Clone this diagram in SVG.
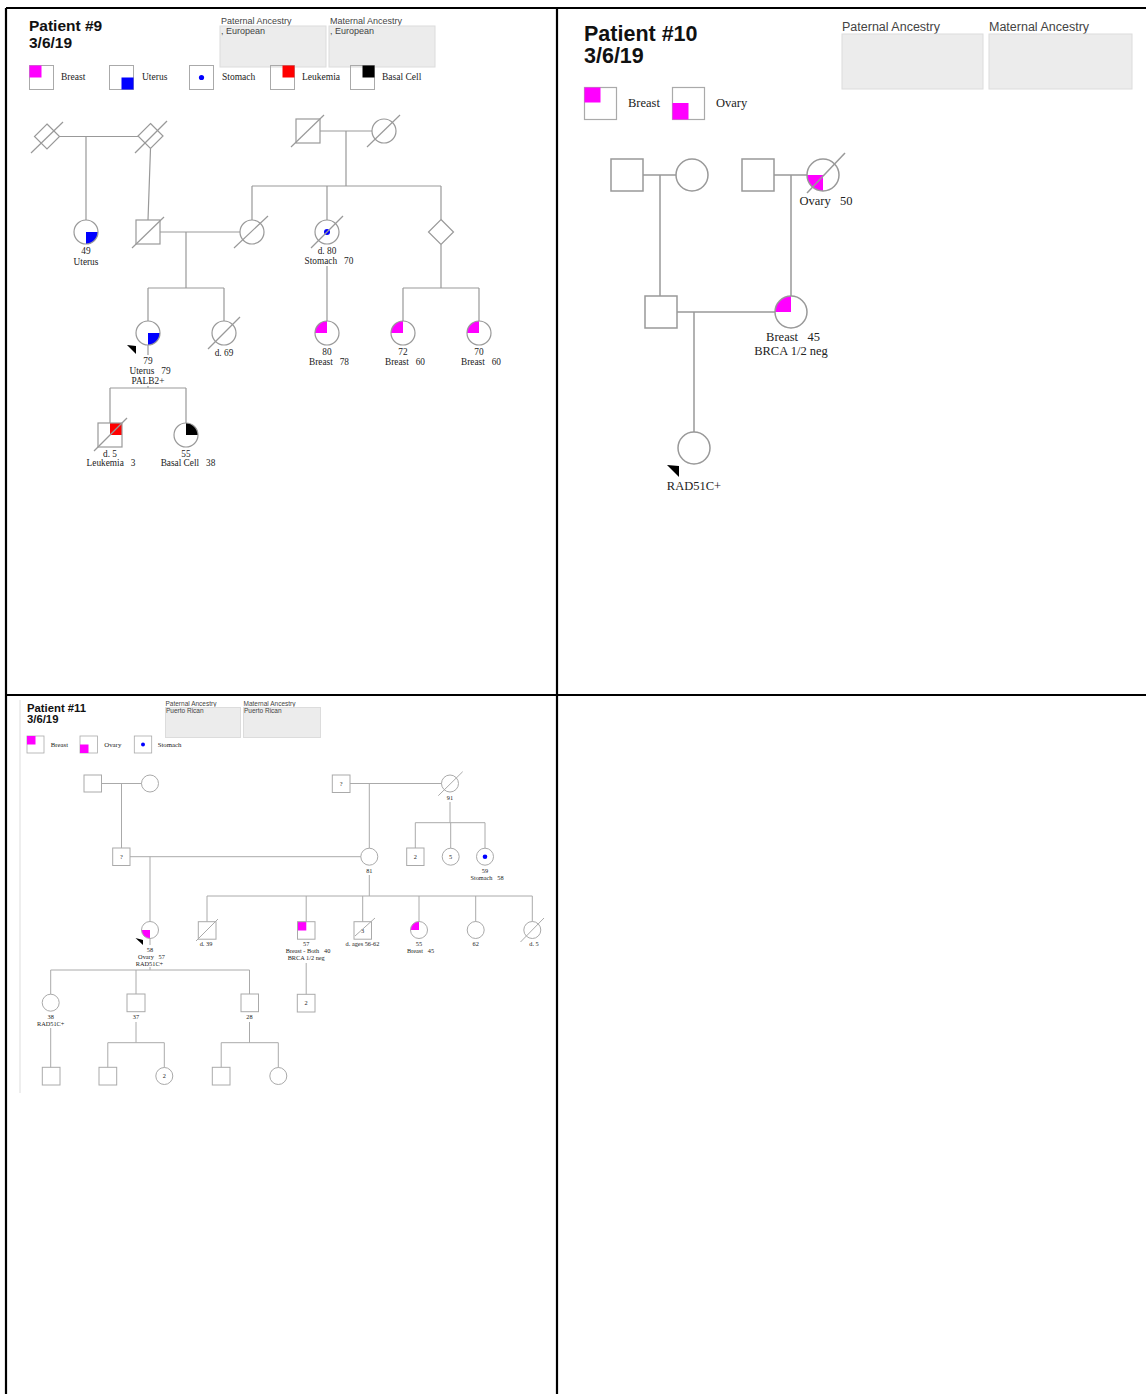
<svg xmlns="http://www.w3.org/2000/svg" width="1146" height="1394" viewBox="0 0 1146 1394">
<style>
.frame{stroke:#000;stroke-width:2.2;fill:none}
.l9{stroke:#999;stroke-width:1.2;fill:none}
.l10{stroke:#999;stroke-width:1.5;fill:none}
.l11{stroke:#aaa;stroke-width:1;fill:none}
.anc{fill:#ececec;stroke:#dcdcdc;stroke-width:1}
.ttl{font-family:"Liberation Sans",Arial,sans-serif;font-weight:bold;fill:#111}
.at{font-family:"Liberation Sans",Arial,sans-serif;fill:#444}
.s9{font-family:"Liberation Serif","Times New Roman",serif;font-size:9.3px;fill:#222;text-anchor:middle}
.g9{font-family:"Liberation Serif","Times New Roman",serif;font-size:9.5px;fill:#222}
.s10{font-family:"Liberation Serif","Times New Roman",serif;font-size:12.5px;fill:#222;text-anchor:middle}
.g10{font-family:"Liberation Serif","Times New Roman",serif;font-size:12.5px;fill:#222}
.s11{font-family:"Liberation Serif","Times New Roman",serif;font-size:6.3px;fill:#222;text-anchor:middle}
.g11{font-family:"Liberation Serif","Times New Roman",serif;font-size:6.8px;fill:#222}
.mg{fill:#ff00ff}.bl{fill:#0000ff}.rd{fill:#ff0000}.bk{fill:#000}
</style>

<g id="frame">
<line class="frame" x1="6" y1="8" x2="1146" y2="8"/>
<line class="frame" x1="6" y1="8" x2="6" y2="1394"/>
<line class="frame" x1="557" y1="8" x2="557" y2="1394"/>
<line class="frame" x1="6" y1="695" x2="1146" y2="695"/>
<line x1="20" y1="700" x2="20" y2="1093" stroke="#ddd" stroke-width="1"/>
</g>

<!-- ================= Patient #9 ================= -->
<g id="p9-header">
<text class="ttl" x="29" y="31" font-size="15.5">Patient #9</text>
<text class="ttl" x="29" y="47.5" font-size="15.5">3/6/19</text>
<text class="at" x="221" y="23.5" font-size="9">Paternal Ancestry</text>
<rect class="anc" x="220" y="26" width="106" height="41"/>
<text class="at" x="221" y="34" font-size="9">, European</text>
<text class="at" x="330" y="23.5" font-size="9">Maternal Ancestry</text>
<rect class="anc" x="329" y="26" width="106" height="41"/>
<text class="at" x="330" y="34" font-size="9">, European</text>
</g>
<g id="p9-legend">
<rect x="29.5" y="65.5" width="24" height="24" fill="none" stroke="#aaa"/>
<rect class="mg" x="29.5" y="65.5" width="12" height="12"/>
<text class="g9" x="61" y="80">Breast</text>
<rect x="109.5" y="65.5" width="24" height="24" fill="none" stroke="#aaa"/>
<rect class="bl" x="121.5" y="77.5" width="12" height="12"/>
<text class="g9" x="142" y="80">Uterus</text>
<rect x="189.5" y="65.5" width="24" height="24" fill="none" stroke="#aaa"/>
<circle class="bl" cx="201.5" cy="77.5" r="2.6"/>
<text class="g9" x="222" y="80">Stomach</text>
<rect x="270.5" y="65.5" width="24" height="24" fill="none" stroke="#aaa"/>
<rect class="rd" x="282.5" y="65.5" width="12" height="12"/>
<text class="g9" x="302" y="80">Leukemia</text>
<rect x="350.5" y="65.5" width="24" height="24" fill="none" stroke="#aaa"/>
<rect class="bk" x="362.5" y="65.5" width="12" height="12"/>
<text class="g9" x="382" y="80">Basal Cell</text>
</g>

<g id="p9-connectors">
<path class="l9" d="M59.5,136.5 H138 M86,136.5 V220 M150.5,148.5 L148,220 M320,131 H372 M346,131 V186 M252,186 H441 M252,186 V220 M327,186 V220 M441,186 V219.5 M160,232 H240 M186,232 V288 M148,288 H224 M148,288 V321 M224,288 V321 M327,266 V321 M441,244.5 V288 M403,288 H479 M403,288 V321 M479,288 V321 M148,345 V355 M148,386 V388 M110,388 H186 M110,388 V423 M186,388 V423"/>
</g>

<g id="p9-pgf">
<polygon class="l9" points="47,124 59.5,136.5 47,149 34.5,136.5"/>
<line class="l9" x1="31" y1="153" x2="63" y2="122"/>
</g>
<g id="p9-pgm">
<polygon class="l9" points="150.5,123.5 163,136 150.5,148.5 138,136"/>
<line class="l9" x1="135" y1="153" x2="167" y2="121"/>
</g>
<g id="p9-aunt">
<path class="bl" d="M86,232 L98,232 A12,12 0 0 1 86,244 Z"/>
<circle class="l9" cx="86" cy="232" r="12"/>
<text class="s9" x="86" y="254">49</text>
<text class="s9" x="86" y="265">Uterus</text>
</g>
<g id="p9-father">
<rect class="l9" x="136" y="220" width="24" height="24"/>
<line class="l9" x1="132" y1="248" x2="164" y2="217"/>
</g>
<g id="p9-mother">
<circle class="l9" cx="252" cy="232" r="12"/>
<line class="l9" x1="234" y1="248" x2="268" y2="216"/>
</g>
<g id="p9-mgf">
<rect class="l9" x="296" y="119" width="24" height="24"/>
<line class="l9" x1="291" y1="147" x2="324" y2="115"/>
</g>
<g id="p9-mgm">
<circle class="l9" cx="384" cy="131" r="12"/>
<line class="l9" x1="367" y1="147" x2="400" y2="115"/>
</g>
<g id="p9-maunt">
<circle class="l9" cx="327" cy="232" r="12"/>
<circle class="bl" cx="327" cy="232" r="3"/>
<line class="l9" x1="311" y1="248" x2="343" y2="216"/>
<text class="s9" x="327" y="254">d. 80</text>
<text class="s9" x="329" y="264">Stomach&#160;&#160;&#160;70</text>
</g>
<g id="p9-muncle">
<polygon class="l9" points="441,219.5 453.5,232 441,244.5 428.5,232"/>
</g>
<g id="p9-proband">
<path class="bl" d="M148,333 L160,333 A12,12 0 0 1 148,345 Z"/>
<circle class="l9" cx="148" cy="333" r="12"/>
<polygon class="bk" points="127,345 136,346 136,354"/>
<text class="s9" x="148" y="363.5">79</text>
<text class="s9" x="150" y="374">Uterus&#160;&#160;&#160;79</text>
<text class="s9" x="148" y="384">PALB2+</text>
</g>
<g id="p9-sister">
<circle class="l9" cx="224" cy="333" r="12"/>
<line class="l9" x1="208" y1="349" x2="240" y2="317"/>
<text class="s9" x="224" y="356">d. 69</text>
</g>
<g id="p9-cousin1">
<path class="mg" d="M327,333 L315,333 A12,12 0 0 1 327,321 Z"/>
<circle class="l9" cx="327" cy="333" r="12"/>
<text class="s9" x="327" y="355">80</text>
<text class="s9" x="329" y="365">Breast&#160;&#160;&#160;78</text>
</g>
<g id="p9-cousin2">
<path class="mg" d="M403,333 L391,333 A12,12 0 0 1 403,321 Z"/>
<circle class="l9" cx="403" cy="333" r="12"/>
<text class="s9" x="403" y="355">72</text>
<text class="s9" x="405" y="365">Breast&#160;&#160;&#160;60</text>
</g>
<g id="p9-cousin3">
<path class="mg" d="M479,333 L467,333 A12,12 0 0 1 479,321 Z"/>
<circle class="l9" cx="479" cy="333" r="12"/>
<text class="s9" x="479" y="355">70</text>
<text class="s9" x="481" y="365">Breast&#160;&#160;&#160;60</text>
</g>
<g id="p9-son">
<rect class="rd" x="110" y="423" width="12" height="12"/>
<rect class="l9" x="98" y="423" width="24" height="24"/>
<line class="l9" x1="94" y1="451" x2="127" y2="418"/>
<text class="s9" x="110" y="457">d. 5</text>
<text class="s9" x="111" y="466">Leukemia&#160;&#160;&#160;3</text>
</g>
<g id="p9-daughter">
<path class="bk" d="M186,435 L186,423 A12,12 0 0 1 198,435 Z"/>
<circle class="l9" cx="186" cy="435" r="12"/>
<text class="s9" x="186" y="457">55</text>
<text class="s9" x="188" y="466">Basal Cell&#160;&#160;&#160;38</text>
</g>

<!-- ================= Patient #10 ================= -->
<g id="p10-header">
<text class="ttl" x="584" y="41" font-size="21.5">Patient #10</text>
<text class="ttl" x="584" y="63" font-size="21.5">3/6/19</text>
<text class="at" x="842" y="31" font-size="12.5">Paternal Ancestry</text>
<rect class="anc" x="842" y="34" width="141" height="55"/>
<text class="at" x="989" y="31" font-size="12.5">Maternal Ancestry</text>
<rect class="anc" x="989" y="34" width="143" height="55"/>
</g>
<g id="p10-legend">
<rect x="584.5" y="87.5" width="32" height="32" fill="none" stroke="#aaa" stroke-width="1.2"/>
<rect class="mg" x="584.5" y="87.5" width="16" height="15"/>
<text class="g10" x="628" y="107">Breast</text>
<rect x="672.5" y="87.5" width="32" height="32" fill="none" stroke="#aaa" stroke-width="1.2"/>
<rect class="mg" x="672.5" y="103" width="16" height="16.5"/>
<text class="g10" x="716" y="107">Ovary</text>
</g>

<g id="p10-connectors">
<path class="l10" d="M643,175 H676 M660,175 V296 M774,175 H807 M791,175 V296 M677,312 H775 M694,312 V432"/>
</g>

<g id="p10-pgf"><rect class="l10" x="611" y="159" width="32" height="32"/></g>
<g id="p10-pgm"><circle class="l10" cx="692" cy="175" r="16"/></g>
<g id="p10-mgf"><rect class="l10" x="742" y="159" width="32" height="32"/></g>
<g id="p10-mgm">
<path class="mg" d="M823,175 L823,191 A16,16 0 0 1 807,175 Z"/>
<circle class="l10" cx="823" cy="175" r="16"/>
<line class="l10" x1="807" y1="193" x2="845" y2="153"/>
<text class="s10" x="826" y="205">Ovary&#160;&#160;&#160;50</text>
</g>
<g id="p10-father"><rect class="l10" x="645" y="296" width="32" height="32"/></g>
<g id="p10-mother">
<path class="mg" d="M791,312 L775,312 A16,16 0 0 1 791,296 Z"/>
<circle class="l10" cx="791" cy="312" r="16"/>
<text class="s10" x="793" y="341">Breast&#160;&#160;&#160;45</text>
<text class="s10" x="791" y="355">BRCA 1/2 neg</text>
</g>
<g id="p10-proband">
<circle class="l10" cx="694" cy="448" r="16"/>
<polygon class="bk" points="667,465 679,466 679,477"/>
<text class="s10" x="694" y="490">RAD51C+</text>
</g>

<!-- ================= Patient #11 ================= -->
<g id="p11-header">
<text class="ttl" x="27" y="712" font-size="11.3">Patient #11</text>
<text class="ttl" x="27" y="722.5" font-size="11.3">3/6/19</text>
<text class="at" x="165.5" y="706" font-size="6.5">Paternal Ancestry</text>
<rect class="anc" x="165.5" y="707.5" width="75" height="30"/>
<text class="at" x="166" y="713" font-size="6.5">Puerto Rican</text>
<text class="at" x="243.5" y="706" font-size="6.5">Maternal Ancestry</text>
<rect class="anc" x="243.5" y="707.5" width="77" height="30"/>
<text class="at" x="244" y="713" font-size="6.5">Puerto Rican</text>
</g>
<g id="p11-legend">
<rect x="27" y="736" width="17" height="17" fill="none" stroke="#aaa" stroke-width="0.8"/>
<rect class="mg" x="27" y="736" width="8.5" height="8.5"/>
<text class="g11" x="50.7" y="747">Breast</text>
<rect x="80" y="736" width="17.5" height="17" fill="none" stroke="#aaa" stroke-width="0.8"/>
<rect class="mg" x="80" y="744.5" width="8.5" height="8.5"/>
<text class="g11" x="104.3" y="747">Ovary</text>
<rect x="134.3" y="736" width="17.4" height="17" fill="none" stroke="#aaa" stroke-width="0.8"/>
<circle class="bl" cx="143" cy="744.5" r="2"/>
<text class="g11" x="157.7" y="747">Stomach</text>
</g>

<g id="p11-connectors">
<path class="l11" d="M101.5,783.5 H141.5 M121.5,783.5 V848 M350,783.5 H441.5 M369.3,783.5 V848.2 M450,802 V822.7 M415.3,822.7 H485 M415.3,822.7 V848 M450.7,822.7 V848.2 M485,822.7 V848.2 M130,856.7 H360.8 M150,856.7 V921.5 M369.3,875 V896 M207,896 H532.3 M207,896 V921.7 M306.2,896 V921.7 M362.7,896 V921.7 M419,896 V921.5 M475.7,896 V921.5 M532.3,896 V921.5 M150,938.5 V945 M150,967 V970 M50.7,970 H249.5 M50.7,970 V994.2 M136,970 V994 M249.5,970 V994 M306.2,963 V994.3 M50.7,1028 V1067.3 M136,1022 V1042.7 M107.8,1042.7 H164.3 M107.8,1042.7 V1067.3 M164.3,1042.7 V1067.5 M249.5,1022 V1042.7 M221.2,1042.7 H278.3 M221.2,1042.7 V1067.3 M278.3,1042.7 V1067.5"/>
</g>

<g id="p11-pgf"><rect class="l11" x="84" y="775" width="17.5" height="17"/></g>
<g id="p11-pgm"><circle class="l11" cx="150" cy="783.5" r="8.5"/></g>
<g id="p11-mgf">
<rect class="l11" x="332.3" y="775" width="17.7" height="17.5"/>
<text class="s11" x="341.2" y="786">?</text>
</g>
<g id="p11-mgm">
<circle class="l11" cx="450" cy="783.5" r="8.5"/>
<line class="l11" x1="438.3" y1="795.7" x2="462.7" y2="771.7"/>
<text class="s11" x="450" y="799.5">91</text>
</g>
<g id="p11-father">
<rect class="l11" x="112.7" y="848" width="17.3" height="17.5"/>
<text class="s11" x="121.3" y="859">?</text>
</g>
<g id="p11-mother">
<circle class="l11" cx="369.3" cy="856.7" r="8.5"/>
<text class="s11" x="369.3" y="872.5">81</text>
</g>
<g id="p11-muncles">
<rect class="l11" x="406.7" y="848" width="17.3" height="17.5"/>
<text class="s11" x="415.3" y="859">2</text>
</g>
<g id="p11-maunts">
<circle class="l11" cx="450.7" cy="856.7" r="8.5"/>
<text class="s11" x="450.7" y="859">5</text>
</g>
<g id="p11-maunt-stomach">
<circle class="l11" cx="485" cy="856.7" r="8.5"/>
<circle class="bl" cx="485" cy="856.7" r="2.3"/>
<text class="s11" x="485" y="872.5">59</text>
<text class="s11" x="487" y="880">Stomach&#160;&#160;&#160;58</text>
</g>
<g id="p11-proband">
<path class="mg" d="M150,930 L150,938.5 A8.5,8.5 0 0 1 141.5,930 Z"/>
<circle class="l11" cx="150" cy="930" r="8.5"/>
<polygon class="bk" points="135.5,938 143,940 143,945"/>
<text class="s11" x="150" y="952">58</text>
<text class="s11" x="151.5" y="959">Ovary&#160;&#160;&#160;57</text>
<text class="s11" x="149.5" y="966.3">RAD51C+</text>
</g>
<g id="p11-sib1">
<rect class="l11" x="198.3" y="921.7" width="17.7" height="17.5"/>
<line class="l11" x1="196" y1="941" x2="218" y2="919"/>
<text class="s11" x="206" y="946">d. 39</text>
</g>
<g id="p11-sib2">
<rect class="mg" x="297.5" y="921.7" width="8.8" height="8.8"/>
<rect class="l11" x="297.5" y="921.7" width="17.5" height="17.5"/>
<text class="s11" x="306.2" y="945.5">57</text>
<text class="s11" x="308" y="953">Breast - Both&#160;&#160;&#160;40</text>
<text class="s11" x="306.2" y="960">BRCA 1/2 neg</text>
</g>
<g id="p11-sib3">
<rect class="l11" x="354" y="921.7" width="17.5" height="17.5"/>
<text class="s11" x="362.7" y="932.5">3</text>
<line class="l11" x1="355" y1="936" x2="375" y2="918"/>
<text class="s11" x="362.5" y="945.5">d. ages 56-62</text>
</g>
<g id="p11-sib4">
<path class="mg" d="M419,930 L410.5,930 A8.5,8.5 0 0 1 419,921.5 Z"/>
<circle class="l11" cx="419" cy="930" r="8.5"/>
<text class="s11" x="419" y="945.5">55</text>
<text class="s11" x="420.5" y="953">Breast&#160;&#160;&#160;45</text>
</g>
<g id="p11-sib5">
<circle class="l11" cx="475.7" cy="930" r="8.5"/>
<text class="s11" x="475.7" y="945.5">62</text>
</g>
<g id="p11-sib6">
<circle class="l11" cx="532.3" cy="930" r="8.5"/>
<line class="l11" x1="520.5" y1="942" x2="544" y2="918"/>
<text class="s11" x="534" y="945.5">d. 5</text>
</g>
<g id="p11-nephew">
<rect class="l11" x="297.3" y="994.3" width="17.7" height="17.7"/>
<text class="s11" x="306.2" y="1005.3">2</text>
</g>
<g id="p11-child1">
<circle class="l11" cx="50.7" cy="1002.7" r="8.5"/>
<text class="s11" x="50.7" y="1019">38</text>
<text class="s11" x="50.7" y="1025.5">RAD51C+</text>
</g>
<g id="p11-child2">
<rect class="l11" x="127" y="994" width="18" height="17.7"/>
<text class="s11" x="136" y="1019">37</text>
</g>
<g id="p11-child3">
<rect class="l11" x="241" y="994" width="17.5" height="17.7"/>
<text class="s11" x="249.5" y="1019">28</text>
</g>
<g id="p11-gc1"><rect class="l11" x="42.3" y="1067.3" width="17.7" height="17.7"/></g>
<g id="p11-gc2"><rect class="l11" x="99" y="1067.3" width="17.7" height="17.7"/></g>
<g id="p11-gc3">
<circle class="l11" cx="164.3" cy="1076" r="8.5"/>
<text class="s11" x="164.3" y="1078.2">2</text>
</g>
<g id="p11-gc4"><rect class="l11" x="212.3" y="1067.3" width="17.7" height="17.7"/></g>
<g id="p11-gc5"><circle class="l11" cx="278.3" cy="1076" r="8.5"/></g>
</svg>
